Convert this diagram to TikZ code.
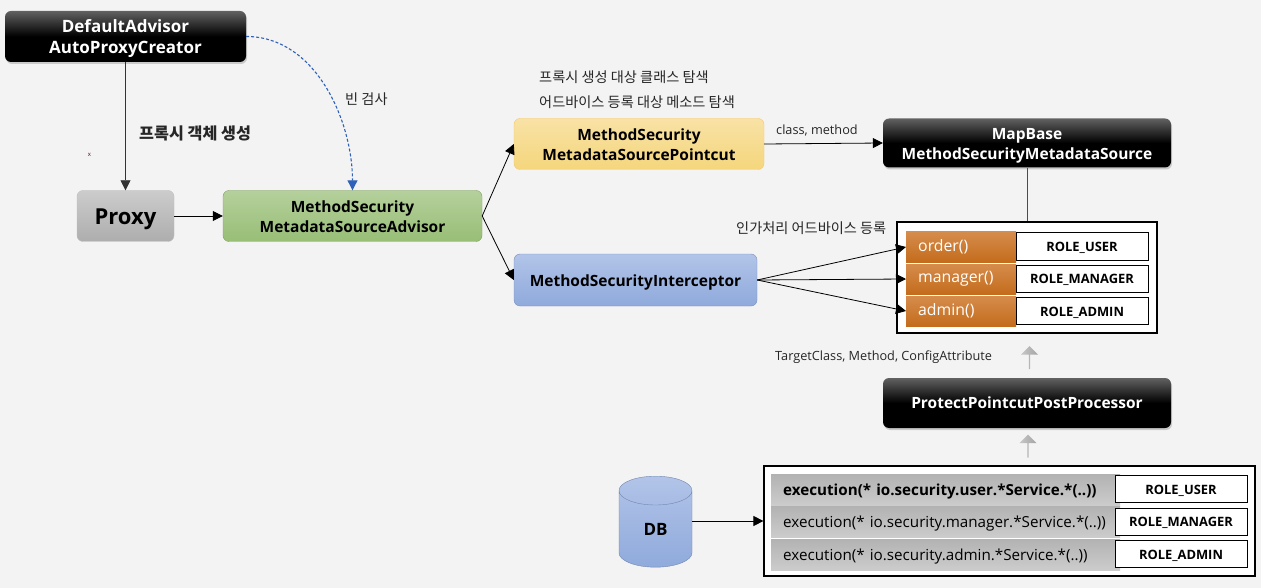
\documentclass[tikz,border=0pt]{standalone}
\usepackage{fontspec}
\setmainfont{Open Sans}
\newfontfamily\krfont{Noto Sans CJK KR}
\usetikzlibrary{arrows.meta}
\usetikzlibrary{shadows}
\usetikzlibrary{shapes.geometric, shapes.arrows}
\definecolor{pageGray}{HTML}{F3F3F3}
\definecolor{linkBlue}{HTML}{2F62B8}
\definecolor{greenTop}{HTML}{B5D09C}
\definecolor{greenBottom}{HTML}{98BE76}
\definecolor{yellowTop}{HTML}{F8E2A6}
\definecolor{yellowBottom}{HTML}{F5D67C}
\definecolor{blueTop}{HTML}{B2C4E8}
\definecolor{blueBottom}{HTML}{8FAADC}
\definecolor{orangeTop}{HTML}{D58C4C}
\definecolor{orangeBottom}{HTML}{C46C1C}
\newcommand{\boxStrut}{\rule[-4pt]{0pt}{22pt}}
\tikzset{
  boxBase/.style={rounded corners=6pt, align=center, inner sep=0pt, execute at begin node={\lineskiplimit=-20pt}, font=\bfseries\fontsize{15.5}{20}\selectfont},
  blackBox/.style={boxBase, text=white, top color=black!62, bottom color=black, middle color=black, drop shadow={shadow xshift=1pt, shadow yshift=-2pt, opacity=0.35}},
  proxyBox/.style={boxBase, draw=black!25, top color=black!20, bottom color=black!32},
  greenBox/.style={boxBase, draw=greenBottom!85!black, top color=greenTop, bottom color=greenBottom},
  yellowBox/.style={boxBase, draw=yellowBottom!85!orange, top color=yellowTop, bottom color=yellowBottom},
  blueBox/.style={boxBase, draw=blueBottom!85!black, top color=blueTop, bottom color=blueBottom},
  frameBox/.style={draw=black, line width=1.2pt, fill=white},
  methodRow/.style={anchor=west, text=white, text width=86pt, minimum width=110pt, minimum height=30pt, align=left, inner ysep=0pt, inner xsep=12pt, top color=orangeTop, bottom color=orangeBottom, font=\fontsize{15.8}{18}\selectfont},
  roleBox/.style={draw=black, line width=1pt, fill=white, inner sep=0pt, minimum width=132pt, minimum height=27pt, text height=10pt, text depth=0pt, font=\bfseries\fontsize{12.9}{15}\selectfont},
  pointcutRow/.style={anchor=west, minimum width=343pt, minimum height=31pt, text width=325pt, text height=13pt, text depth=2pt, inner ysep=0pt, inner xsep=12pt, align=left, top color=black!30, bottom color=black!20, font=\fontsize{15.2}{18}\selectfont},
  grayUp/.style={single arrow, rotate=90, inner sep=0pt, minimum height=23pt, minimum width=17pt, single arrow head extend=2.5pt, single arrow tip angle=90, left color=black!22, right color=black!36},
  krLabel/.style={font=\krfont\fontsize{14.2}{17}\selectfont, text=black!85, inner sep=0pt},
  smallLabel/.style={font=\fontsize{12.7}{15}\selectfont, text=black!85, inner sep=0pt},
  link/.style={-{Triangle[length=10pt, width=10pt]}, black, line width=0.8pt}
}
\begin{document}
\begin{tikzpicture}[x=1pt, y=-1pt]
    \fill[pageGray] (0,0) rectangle (1261,588);
    \useasboundingbox (0,0) rectangle (1261,588);
    \node[blackBox, minimum width=241pt, minimum height=51pt, font=\bfseries\fontsize{17}{21}\selectfont] (creatorBox) at (125.5,36.5) {DefaultAdvisor\boxStrut\\AutoProxyCreator\boxStrut};
    \node[proxyBox, minimum width=97pt, minimum height=51pt, text height=19pt, text depth=1pt, font=\bfseries\fontsize{22}{24}\selectfont] (proxyNode) at (125.5,216) {Proxy};
    \node[greenBox, minimum width=259pt, minimum height=51pt] (advisorBox) at (352.5,216) {MethodSecurity\boxStrut\\MetadataSourceAdvisor\boxStrut};
    \node[yellowBox, minimum width=250pt, minimum height=51pt] (pointcutBox) at (639,144) {MethodSecurity\boxStrut\\MetadataSourcePointcut\boxStrut};
    \node[blueBox, minimum width=243pt, minimum height=52pt] (interceptorBox) at (635.5,280) {MethodSecurityInterceptor\boxStrut};
    \node[blackBox, minimum width=288pt, minimum height=49pt] (mapBaseBox) at (1027,143) {MapBase\boxStrut\\MethodSecurityMetadataSource\boxStrut};
    \node[blackBox, minimum width=288pt, minimum height=50pt] (postProcessorBox) at (1027,403) {ProtectPointcutPostProcessor\rule[-5pt]{0pt}{20pt}};

    \node[frameBox, minimum width=260pt, minimum height=111pt] (methodFrame) at (1027,277.5) {};
    \node[methodRow] (orderRow) at (906,247) {order()};
    \node[methodRow] (managerRow) at (906,279) {manager()};
    \node[methodRow] (adminRow) at (906,311) {admin()};
    \node[roleBox] (orderRole) at (1082,246.5) {ROLE\_USER};
    \node[roleBox] (managerRole) at (1082,278.5) {ROLE\_MANAGER};
    \node[roleBox] (adminRole) at (1082,311) {ROLE\_ADMIN};

    \node[frameBox, minimum width=491pt, minimum height=110pt] (pointcutFrame) at (1009.5,521) {};
    \node[pointcutRow, font=\bfseries\fontsize{15.2}{18}\selectfont] (userRow) at (771,490) {execution(* io.security.user.*Service.*(..))};
    \node[pointcutRow] (managerPointcut) at (771,522) {execution(* io.security.manager.*Service.*(..))};
    \node[pointcutRow] (adminPointcut) at (771,554.5) {execution(* io.security.admin.*Service.*(..))};
    \node[roleBox] (userRole) at (1181,489) {ROLE\_USER};
    \node[roleBox] (managerRole2) at (1181,521.5) {ROLE\_MANAGER};
    \node[roleBox] (adminRole2) at (1181,554) {ROLE\_ADMIN};

    \node[cylinder, shape border rotate=90, aspect=1.2, draw=blueBottom!80!black, top color=blueTop, bottom color=blueBottom, minimum width=73pt, minimum height=91pt, inner sep=0pt, font=\bfseries\fontsize{17}{20}\selectfont] (dbNode) at (655.5,529) {DB};

    \node[grayUp] (upperArrow) at (1029.5,358) {};
    \node[grayUp] (lowerArrow) at (1028,446.5) {};

    \node[krLabel, font=\krfont\bfseries\fontsize{16.2}{19}\selectfont, anchor=west] (createLabel) at (139,133) {프록시 객체 생성};
    \node[krLabel, anchor=west] (beanLabel) at (345,99) {빈 검사};
    \node[krLabel, anchor=west] (classLabel) at (539,77) {프록시 생성 대상 클래스 탐색};
    \node[krLabel, anchor=west] (methodLabel) at (539,102) {어드바이스 등록 대상 메소드 탐색};
    \node[krLabel, anchor=west] (adviceLabel) at (736,228.5) {인가처리 어드바이스 등록};
    \node[smallLabel, anchor=west] (classMethodLabel) at (776,130) {class, method};
    \node[smallLabel, anchor=west] (targetLabel) at (775,357.5) {TargetClass, Method, ConfigAttribute};
    \node[inner sep=0pt, text=black!60!red, font=\fontsize{6}{6}\selectfont] (tinyMark) at (89.5,155) {x};

    \draw[link, black!80] (creatorBox) -- (proxyNode);
    \draw[link] (proxyNode) -- (advisorBox);
    \draw[-{Triangle[length=10pt, width=10pt]}, linkBlue, densely dashed, line width=1.1pt] (creatorBox.east) to[out=0, in=90, looseness=0.95] (advisorBox.north);
    \draw[link] (advisorBox.east) -- (pointcutBox.west);
    \draw[link] (advisorBox.east) -- (interceptorBox.west);
    \draw[link] (pointcutBox.east) -- (mapBaseBox.west);
    \draw[black!70, line width=0.8pt] (mapBaseBox.south) -- (methodFrame.north);
    \draw[link] (interceptorBox.east) -- (orderRow.west);
    \draw[link] (interceptorBox.east) -- (managerRow.west);
    \draw[link] (interceptorBox.east) -- (adminRow.west);
    \draw[link] (dbNode.east |- pointcutFrame.west) -- (pointcutFrame.west);
  \end{tikzpicture}
\end{document}
